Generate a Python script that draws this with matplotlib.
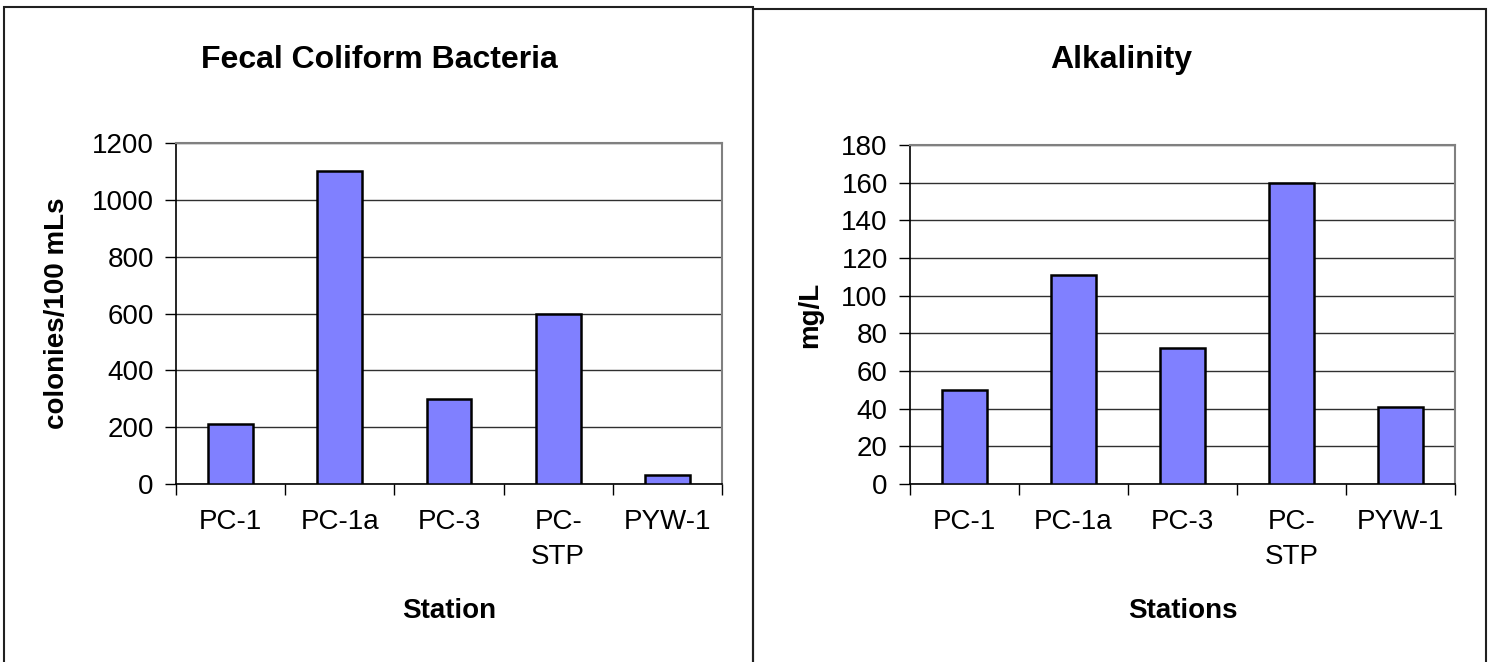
import matplotlib
matplotlib.use("Agg")
import matplotlib.pyplot as plt
from matplotlib.patches import Rectangle

plt.rcParams['font.family'] = ['Liberation Sans', 'DejaVu Sans']

# data
stations = ['PC-1', 'PC-1a', 'PC-3', 'PC-\nSTP', 'PYW-1']
fecal = [210, 1100, 300, 600, 30]
alkalinity = [50, 111, 72, 160, 41]

W, H = 1496, 662
fig = plt.figure(figsize=(W / 100, H / 100), dpi=100)


def px_rect(x0, y0, x1, y1):
    # pixel box (top-left origin) -> figure fraction [left, bottom, width, height]
    return [x0 / W, 1 - y1 / H, (x1 - x0) / W, (y1 - y0) / H]


def bar_panel(rect, values, ymax, ystep, title, xlabel, ylabel, title_x, ylabel_x):
    ax = fig.add_axes(px_rect(*rect))
    x = range(len(values))
    ax.bar(x, values, width=0.41, color='#8080FF', edgecolor='black',
           linewidth=1.8, zorder=3)
    ax.set_xlim(-0.5, len(values) - 0.5)
    ax.set_ylim(0, ymax)
    ax.set_yticks(range(0, ymax + 1, ystep))
    ax.grid(axis='y', color='#303030', linewidth=1.0, zorder=0)
    ax.set_axisbelow(True)

    # category labels centered, tick marks between categories
    ax.set_xticks(list(x))
    ax.set_xticklabels(stations, fontsize=20, linespacing=1.45)
    ax.set_xticks([i - 0.5 for i in range(len(values) + 1)], minor=True)
    ax.tick_params(axis='x', which='major', length=0, pad=18)
    ax.tick_params(axis='x', which='minor', length=8, width=1, direction='out',
                   color='black')
    ax.tick_params(axis='y', length=8, width=1, direction='out', labelsize=20,
                   pad=8, color='black')

    for side in ['top', 'right']:
        ax.spines[side].set_color('#808080')
        ax.spines[side].set_linewidth(1.5)
    for side in ['left', 'bottom']:
        ax.spines[side].set_color('black')
        ax.spines[side].set_linewidth(1.2)

    cx = (rect[0] + rect[2]) / 2 / W
    fig.text(title_x / W, 1 - 68 / H, title, fontsize=23, fontweight='bold',
             ha='center', va='baseline')
    fig.text(cx, 1 - 618 / H, xlabel, fontsize=20, fontweight='bold',
             ha='center', va='baseline')
    cy = 1 - (rect[1] + rect[3]) / 2 / H
    fig.text(ylabel_x / W, cy, ylabel, fontsize=20, fontweight='bold',
             rotation=90, ha='center', va='center')
    return ax


bar_panel((176, 143, 722, 484), fecal, 1200, 200, 'Fecal Coliform Bacteria',
          'Station', 'colonies/100 mLs', 379, 57)
bar_panel((910, 145, 1455, 484), alkalinity, 180, 20, 'Alkalinity',
          'Stations', 'mg/L', 1121, 810)

# panel frames
fig.patches.append(Rectangle((4 / W, -0.05), 749 / W, 1.05 - 7 / H,
                             transform=fig.transFigure, fill=False,
                             edgecolor='#202020', linewidth=1.5))
fig.patches.append(Rectangle((753 / W, -0.05), 733 / W, 1.05 - 9 / H,
                             transform=fig.transFigure, fill=False,
                             edgecolor='#202020', linewidth=1.5))

fig.savefig('out.png', dpi=100)
